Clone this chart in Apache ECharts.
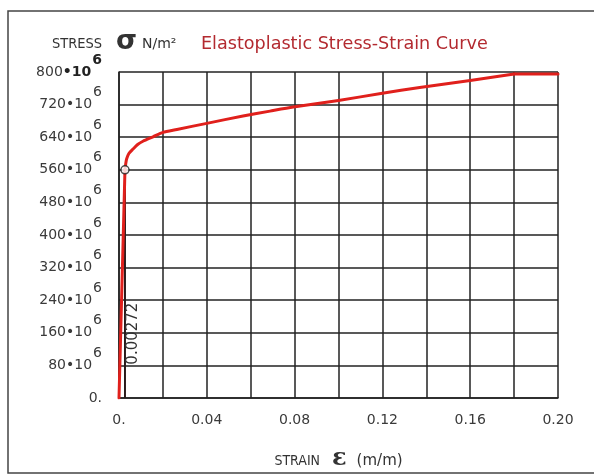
<!DOCTYPE html>
<html>
<head>
<meta charset="utf-8">
<script src="https://cdn.jsdelivr.net/npm/echarts@6/dist/echarts.min.js"></script>
<style>
html,body{margin:0;padding:0;background:#fff;}
#chart{width:594px;height:476px;}
</style>
</head>
<body>
<div id="chart"></div>
<script>
// Strain (m/m) and stress (×10^6 N/m²)
var strain = [0, 0.00272, 0.0031, 0.0035, 0.0045, 0.0064, 0.0085, 0.0109, 0.0155, 0.020, 0.0264, 0.040, 0.0565, 0.0688, 0.0794, 0.100, 0.120, 0.137, 0.160, 0.180, 0.200];
var stress = [0, 560, 576, 587, 600, 611, 622, 630, 641, 652, 659, 674, 692, 704, 714, 730, 748, 762, 779, 795, 795];
var yieldStrain = 0.00272;
var yieldStress = 560;
var plateauStart = 0.18;   // strain where the curve turns flat
var yieldLabel = '0.00272';
var xTickLabels = ['0.', '', '0.04', '', '0.08', '', '0.12', '', '0.16', '', '0.20'];

var elasticData = [], plasticData = [], plateauData = [];
strain.forEach(function (s, i) {
  var pt = [s, stress[i]];
  if (s <= yieldStrain) elasticData.push(pt);
  if (s >= yieldStrain && s <= plateauStart) plasticData.push(pt);
  if (s >= plateauStart) plateauData.push(pt);
});
var yieldLineData = [[yieldStrain, 0], [yieldStrain, yieldStress]];

var FONT = 'DejaVu Sans';
var RED = '#e0201c';
var chart = echarts.init(document.getElementById('chart'), null, {renderer: 'canvas'});

var option = {
  animation: false,
  backgroundColor: '#fff',
  grid: {left: 119, right: 36, top: 72, bottom: 74, containLabel: false},
  xAxis: {
    type: 'value', min: 0, max: 0.2, interval: 0.02,
    axisLine: {show: true, lineStyle: {color: '#222', width: 1.5}},
    axisTick: {show: false},
    splitLine: {show: true, lineStyle: {color: '#222', width: 1.5}},
    axisLabel: {
      margin: 15, fontFamily: FONT, fontSize: 14, color: '#3a3a3a',
      formatter: function (v) {
        var idx = Math.round(v / 0.02);
        return xTickLabels[idx] || '';
      }
    },
    name: '{s|STRAIN}{e|ε}{m|(m/m)}',
    nameLocation: 'middle', nameGap: 49,
    nameTextStyle: {
      rich: {
        s: {fontFamily: 'DejaVu Sans Condensed', fontSize: 14, color: '#333'},
        e: {fontFamily: 'DejaVu Serif', fontSize: 24, fontWeight: 'bold', color: '#333', padding: [0, 10, 4, 12]},
        m: {fontFamily: FONT, fontSize: 15, color: '#333'}
      }
    }
  },
  yAxis: {
    type: 'value', min: 0, max: 800, interval: 80,
    axisLine: {show: true, lineStyle: {color: '#222', width: 1.5}},
    axisTick: {show: false},
    splitLine: {show: true, lineStyle: {color: '#222', width: 1.5}},
    axisLabel: {
      margin: 17, fontFamily: FONT, fontSize: 14, color: '#3a3a3a',
      formatter: function (v) {
        if (v === 0) return '{a|0.}';
        if (v === 800) return '{a|800}{ab|•10}{bb|6}';
        return '{a|' + v + '•10}{b|6}';
      },
      rich: {
        a: {fontFamily: FONT, fontSize: 14, color: '#3a3a3a'},
        ab: {fontFamily: FONT, fontSize: 14, color: '#222', fontWeight: 'bold'},
        b: {fontFamily: FONT, fontSize: 14, color: '#3a3a3a', padding: [0, 0, 24, 1]},
        bb: {fontFamily: FONT, fontSize: 14, color: '#222', fontWeight: 'bold', padding: [0, 0, 24, 1]}
      }
    }
  },
  graphic: [
    {type: 'rect', shape: {x: 8, y: 11, width: 700, height: 462}, style: {fill: 'none', stroke: '#444', lineWidth: 1.5}, z: -1},
    {type: 'text', x: 52, y: 44, style: {text: 'STRESS', font: '14.5px "DejaVu Sans Condensed"', fill: '#333', verticalAlign: 'middle'}},
    {type: 'text', x: 116, y: 42, style: {text: 'σ', font: 'bold 27px "DejaVu Sans"', fill: '#333', verticalAlign: 'middle'}},
    {type: 'text', x: 142, y: 44, style: {text: 'N/m²', font: '14px "DejaVu Sans"', fill: '#333', verticalAlign: 'middle'}},
    {type: 'text', x: 201, y: 44, style: {text: 'Elastoplastic Stress-Strain Curve', font: '17.6px "DejaVu Sans"', fill: '#b32a30', verticalAlign: 'middle'}}
  ],
  series: [
    {
      name: 'yield', type: 'line', data: yieldLineData, symbol: 'none',
      lineStyle: {color: '#2a1a1a', width: 2}, z: 3
    },
    {
      name: 'elastic', type: 'line', data: elasticData, symbol: 'none',
      lineStyle: {color: RED, width: 3, cap: 'round'}, z: 4
    },
    {
      name: 'plastic', type: 'line', data: plasticData, symbol: 'none', smooth: 0.25,
      lineStyle: {color: RED, width: 3, join: 'round', cap: 'round'}, z: 4
    },
    {
      name: 'plateau', type: 'line', data: plateauData, symbol: 'none',
      lineStyle: {color: RED, width: 3, cap: 'round'}, z: 4
    },
    {
      name: 'yieldPoint', type: 'scatter', data: [[yieldStrain, yieldStress]],
      symbol: 'circle', symbolSize: 8,
      itemStyle: {color: '#fff', borderColor: '#222', borderWidth: 1.5}, z: 5
    }
  ]
};
chart.setOption(option);

// rotated yield strain label placed next to the yield line, via the axis scales
var p = chart.convertToPixel({gridIndex: 0}, [yieldStrain, 158]);
chart.setOption({
  graphic: option.graphic.concat([{
    type: 'text', x: p[0] + 8, y: p[1], rotation: Math.PI / 2,
    style: {text: yieldLabel, font: '15px "DejaVu Sans"', fill: '#333', align: 'center', verticalAlign: 'middle'}, z: 10
  }])
});
</script>
</body>
</html>
